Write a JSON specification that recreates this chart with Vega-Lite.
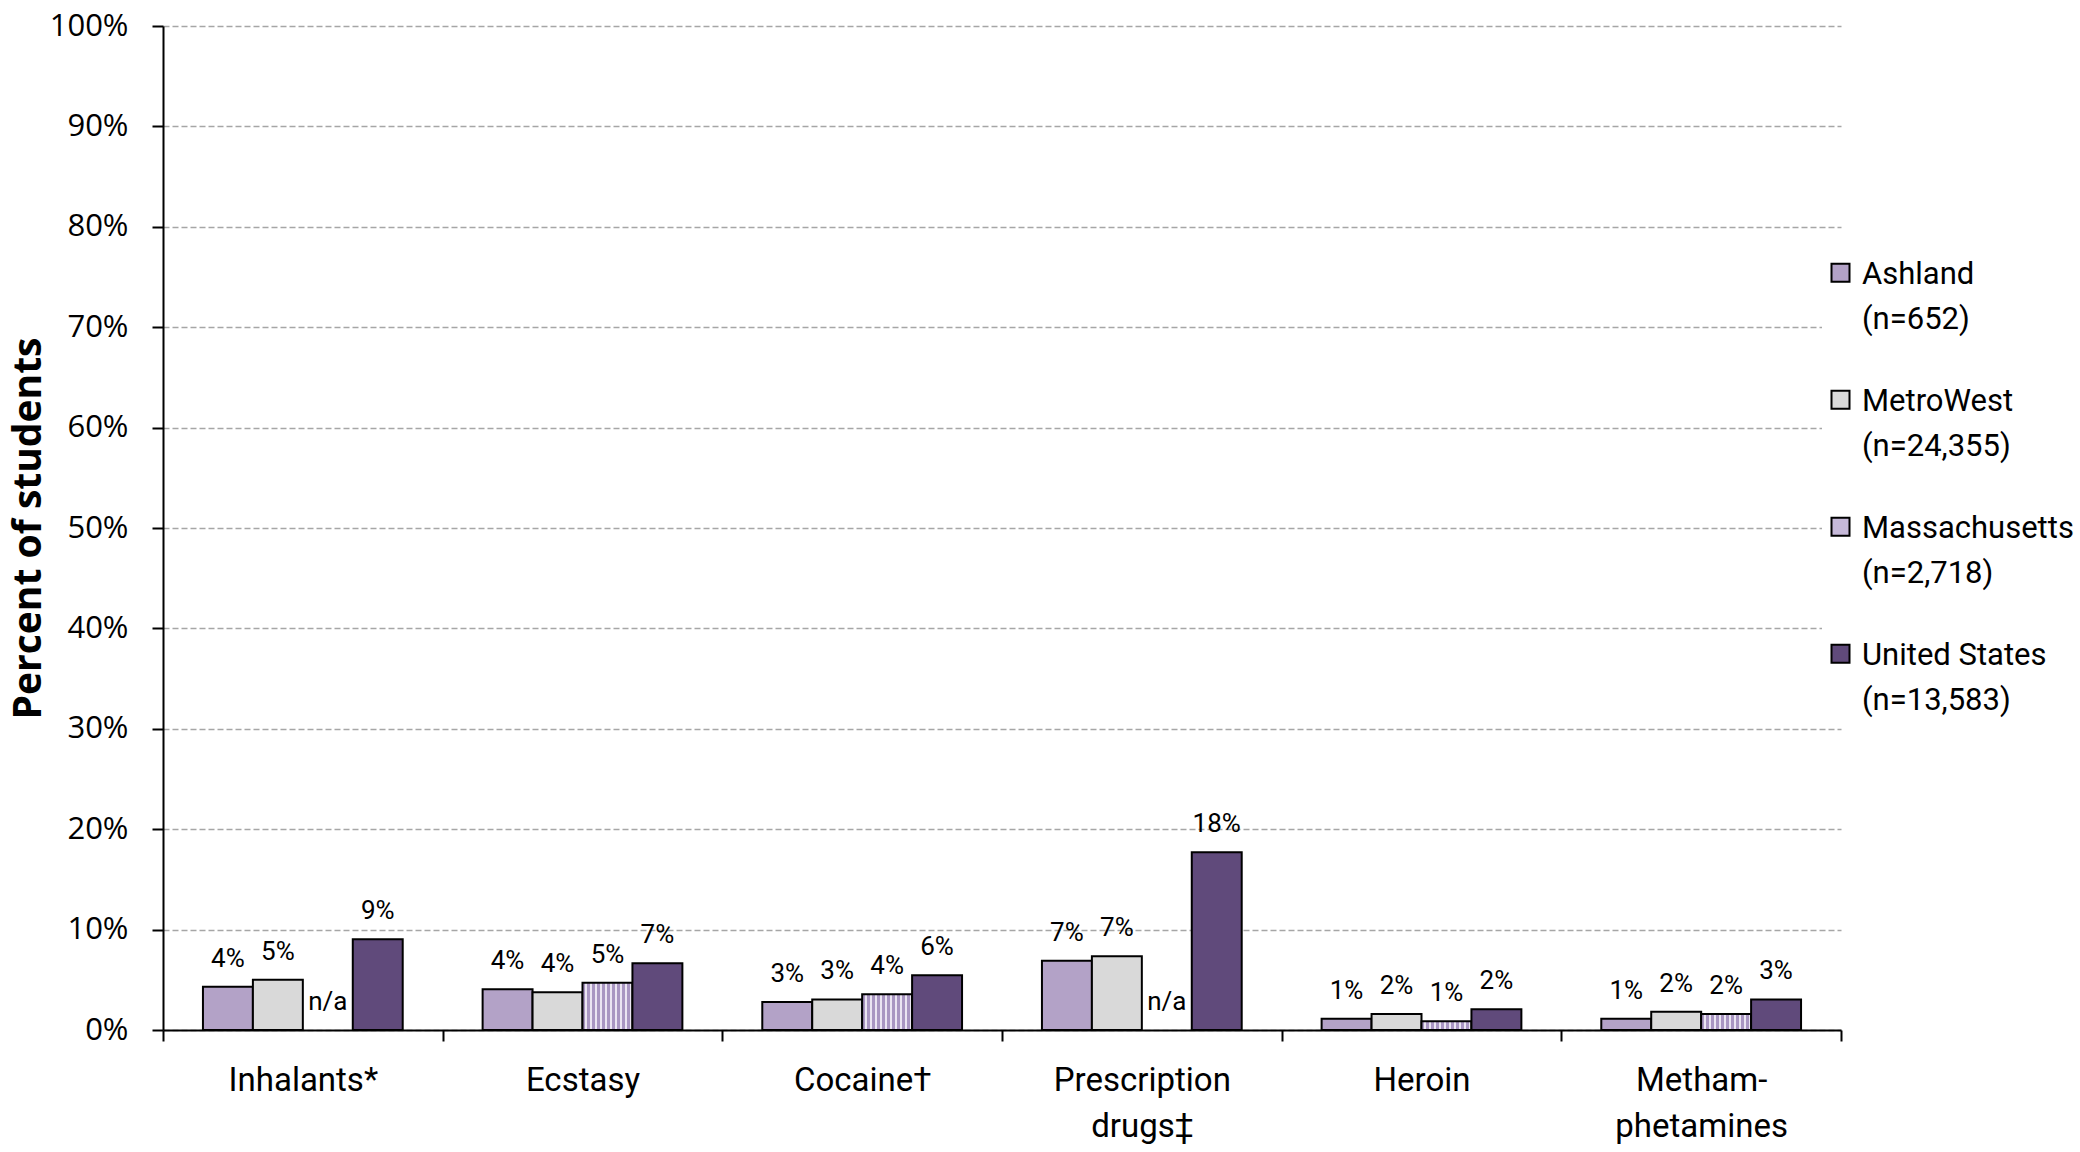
{
  "$schema": "https://vega.github.io/schema/vega-lite/v6.json",
  "width": 1678,
  "height": 1004,
  "autosize": {"type": "none"},
  "padding": {"left": 163, "top": 26, "right": 239, "bottom": 122},
  "background": "white",
  "config": {"view": {"stroke": null}, "style": {"guide-label": {"lineHeight": 45}}},
  "data": {
    "values": [
      {"drug": "Inhalants*", "region": "Ashland", "pct": 4.3, "label": "4%"},
      {"drug": "Inhalants*", "region": "MetroWest", "pct": 5.0, "label": "5%"},
      {"drug": "Inhalants*", "region": "Massachusetts", "pct": 0, "label": "n/a"},
      {"drug": "Inhalants*", "region": "United States", "pct": 9.05, "label": "9%"},
      {"drug": "Ecstasy", "region": "Ashland", "pct": 4.05, "label": "4%"},
      {"drug": "Ecstasy", "region": "MetroWest", "pct": 3.75, "label": "4%"},
      {"drug": "Ecstasy", "region": "Massachusetts", "pct": 4.7, "label": "5%"},
      {"drug": "Ecstasy", "region": "United States", "pct": 6.65, "label": "7%"},
      {"drug": "Cocaine†", "region": "Ashland", "pct": 2.8, "label": "3%"},
      {"drug": "Cocaine†", "region": "MetroWest", "pct": 3.05, "label": "3%"},
      {"drug": "Cocaine†", "region": "Massachusetts", "pct": 3.55, "label": "4%"},
      {"drug": "Cocaine†", "region": "United States", "pct": 5.45, "label": "6%"},
      {"drug": "Prescription drugs‡", "region": "Ashland", "pct": 6.9, "label": "7%"},
      {"drug": "Prescription drugs‡", "region": "MetroWest", "pct": 7.35, "label": "7%"},
      {"drug": "Prescription drugs‡", "region": "Massachusetts", "pct": 0, "label": "n/a"},
      {"drug": "Prescription drugs‡", "region": "United States", "pct": 17.7, "label": "18%"},
      {"drug": "Heroin", "region": "Ashland", "pct": 1.12, "label": "1%"},
      {"drug": "Heroin", "region": "MetroWest", "pct": 1.6, "label": "2%"},
      {"drug": "Heroin", "region": "Massachusetts", "pct": 0.88, "label": "1%"},
      {"drug": "Heroin", "region": "United States", "pct": 2.07, "label": "2%"},
      {"drug": "Methamphetamines", "region": "Ashland", "pct": 1.12, "label": "1%"},
      {"drug": "Methamphetamines", "region": "MetroWest", "pct": 1.83, "label": "2%"},
      {"drug": "Methamphetamines", "region": "Massachusetts", "pct": 1.6, "label": "2%"},
      {"drug": "Methamphetamines", "region": "United States", "pct": 3.05, "label": "3%"}
    ]
  },
  "encoding": {
    "x": {
      "field": "drug",
      "type": "nominal",
      "sort": null,
      "scale": {"paddingInner": 0, "paddingOuter": 0},
      "axis": {
        "title": null,
        "labelAngle": 0,
        "tickBand": "extent",
        "grid": false,
        "domainColor": "black",
        "domainWidth": 2,
        "tickColor": "black",
        "tickWidth": 2,
        "tickSize": 11,
        "labelFont": "Roboto",
        "labelFontSize": 33,
        "labelColor": "black",
        "labelPadding": 23,
        "labelBaseline": "top",
        "labelLineHeight": 46,
        "labelLimit": 400,
        "labelExpr": "datum.label == 'Prescription drugs‡' ? ['Prescription', 'drugs‡'] : datum.label == 'Methamphetamines' ? ['Metham-', 'phetamines'] : datum.label"
      }
    },
    "xOffset": {
      "field": "region",
      "type": "nominal",
      "sort": ["Ashland", "MetroWest", "Massachusetts", "United States"],
      "scale": {"paddingInner": 0, "paddingOuter": 0.8}
    },
    "y": {
      "field": "pct",
      "type": "quantitative",
      "scale": {"domain": [0, 100], "nice": false},
      "axis": {
        "values": [0, 10, 20, 30, 40, 50, 60, 70, 80, 90, 100],
        "labelExpr": "datum.value + '%'",
        "labelFont": "Open Sans",
        "labelFontSize": 31,
        "labelColor": "black",
        "labelPadding": 24,
        "labelLineHeight": 31,
        "tickSize": 11,
        "tickColor": "black",
        "tickWidth": 2,
        "domainColor": "black",
        "domainWidth": 2,
        "grid": true,
        "gridColor": "#a6a6a6",
        "gridWidth": 1.5,
        "gridDash": [6, 3],
        "title": "Percent of students",
        "titleFont": "Open Sans",
        "titleFontWeight": "bold",
        "titleFontSize": 39,
        "titleColor": "black",
        "titlePadding": 1
      }
    }
  },
  "layer": [
    {
      "transform": [{"filter": "datum.label != 'n/a'"}],
      "mark": {"type": "bar", "stroke": "black", "strokeWidth": 2},
      "encoding": {
        "fill": {
          "condition": {
            "test": "datum.region == 'Massachusetts'",
            "value": {
              "gradient": "linear", "x1": 0, "y1": 0, "x2": 1, "y2": 0,
              "stops": [
                {"offset": 0.0, "color": "#a996c2"}, {"offset": 0.06, "color": "#a996c2"}, {"offset": 0.06, "color": "#ebe5f2"}, {"offset": 0.1, "color": "#ebe5f2"},
                {"offset": 0.1, "color": "#a996c2"}, {"offset": 0.16, "color": "#a996c2"}, {"offset": 0.16, "color": "#ebe5f2"}, {"offset": 0.2, "color": "#ebe5f2"},
                {"offset": 0.2, "color": "#a996c2"}, {"offset": 0.26, "color": "#a996c2"}, {"offset": 0.26, "color": "#ebe5f2"}, {"offset": 0.3, "color": "#ebe5f2"},
                {"offset": 0.3, "color": "#a996c2"}, {"offset": 0.36, "color": "#a996c2"}, {"offset": 0.36, "color": "#ebe5f2"}, {"offset": 0.4, "color": "#ebe5f2"},
                {"offset": 0.4, "color": "#a996c2"}, {"offset": 0.46, "color": "#a996c2"}, {"offset": 0.46, "color": "#ebe5f2"}, {"offset": 0.5, "color": "#ebe5f2"},
                {"offset": 0.5, "color": "#a996c2"}, {"offset": 0.56, "color": "#a996c2"}, {"offset": 0.56, "color": "#ebe5f2"}, {"offset": 0.6, "color": "#ebe5f2"},
                {"offset": 0.6, "color": "#a996c2"}, {"offset": 0.66, "color": "#a996c2"}, {"offset": 0.66, "color": "#ebe5f2"}, {"offset": 0.7, "color": "#ebe5f2"},
                {"offset": 0.7, "color": "#a996c2"}, {"offset": 0.76, "color": "#a996c2"}, {"offset": 0.76, "color": "#ebe5f2"}, {"offset": 0.8, "color": "#ebe5f2"},
                {"offset": 0.8, "color": "#a996c2"}, {"offset": 0.86, "color": "#a996c2"}, {"offset": 0.86, "color": "#ebe5f2"}, {"offset": 0.9, "color": "#ebe5f2"},
                {"offset": 0.9, "color": "#a996c2"}, {"offset": 0.96, "color": "#a996c2"}, {"offset": 0.96, "color": "#ebe5f2"}, {"offset": 1.0, "color": "#ebe5f2"}
              ]
            }
          },
          "field": "region",
          "type": "nominal",
          "sort": ["Ashland", "MetroWest", "Massachusetts", "United States"],
          "scale": {
            "domain": ["Ashland", "MetroWest", "Massachusetts", "United States"],
            "range": ["#b3a2c7", "#d9d9d9", "#c6b9d9", "#604a7b"]
          },
          "legend": {
            "title": null,
            "orient": "none",
            "legendX": 1659,
            "legendY": 239,
            "fillColor": "white",
            "padding": 3,
            "symbolType": "M-1,-2.2H1V-0.2H-1Z",
            "symbolSize": 324,
            "symbolStrokeColor": "black",
            "symbolStrokeWidth": 2,
            "labelFont": "Roboto",
            "labelFontSize": 31,
            "labelColor": "black",
            "labelBaseline": "alphabetic",
            "labelOffset": 6,
            "labelLimit": 400,
            "rowPadding": 50,
            "labelExpr": "datum.label == 'Ashland' ? ['Ashland', '(n=652)'] : datum.label == 'MetroWest' ? ['MetroWest', '(n=24,355)'] : datum.label == 'Massachusetts' ? ['Massachusetts', '(n=2,718)'] : ['United States', '(n=13,583)']"
          }
        }
      }
    },
    {
      "mark": {
        "type": "text",
        "baseline": "alphabetic",
        "dy": -20,
        "font": "Roboto",
        "fontSize": 26,
        "color": "black"
      },
      "encoding": {
        "text": {"field": "label", "type": "nominal"}
      }
    }
  ]
}
